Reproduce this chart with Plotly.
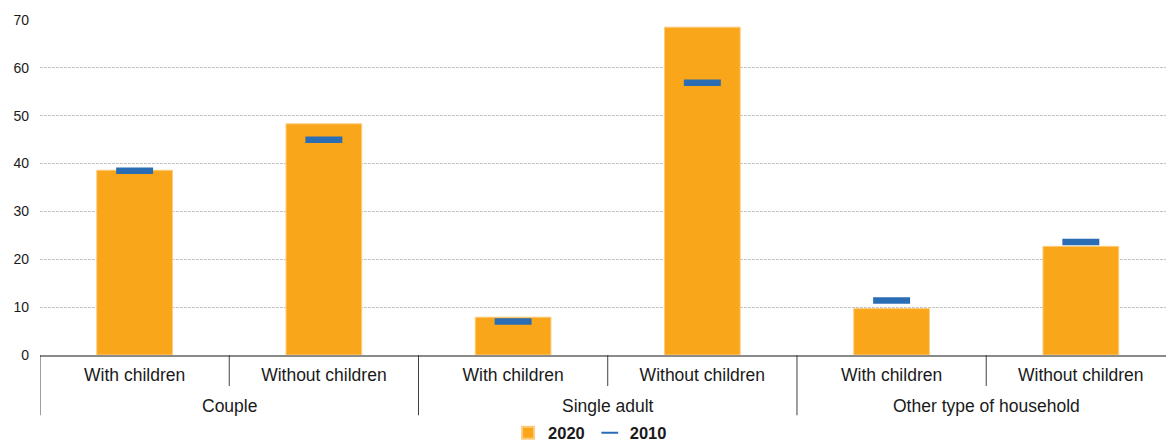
import plotly.graph_objects as go

# Household types (outer level) and sub-types (inner level)
groups = ["Couple", "Single adult", "Other type of household"]
household_groups = ["Couple", "Couple", "Single adult", "Single adult",
                    "Other type of household", "Other type of household"]
child_status = ["With children", "Without children"] * 3

# Shares (%) by household type
values_2020 = [38.6, 48.3, 7.9, 68.5, 9.7, 22.7]
values_2010 = [38.5, 45.0, 7.0, 56.9, 11.4, 23.6]

y_ticks = [0, 10, 20, 30, 40, 50, 60, 70]

# Unique category keys; the axis shows only the sub-type text
x_keys = [f"{g} | {c}" for g, c in zip(household_groups, child_status)]

fig = go.Figure()

fig.add_trace(go.Bar(
    x=x_keys,
    y=values_2020,
    name="2020",
    marker=dict(color="#FAA61A", line=dict(color="#FCCB7E", width=1)),
))

fig.add_trace(go.Scatter(
    x=x_keys,
    y=values_2010,
    name="2010",
    mode="markers",
    marker=dict(symbol="line-ew", size=26.4,
                line=dict(color="#2A6DB5", width=6.5)),
))

n_sub = 2
divider_color = "#404040"
for gi, gname in enumerate(groups):
    start = gi * n_sub - 0.5
    # long separator at the start of each household group
    fig.add_shape(type="line", xref="x", yref="paper",
                  x0=start, x1=start, y0=0, y1=-0.18,
                  line=dict(color=divider_color, width=1))
    # short separators between sub-types inside the group
    for k in range(1, n_sub):
        pos = start + k
        fig.add_shape(type="line", xref="x", yref="paper",
                      x0=pos, x1=pos, y0=0, y1=-0.0925,
                      line=dict(color=divider_color, width=1))
    # group label centred under its sub-types
    fig.add_annotation(text=gname, xref="x", yref="paper",
                       x=start + n_sub / 2, y=-0.152,
                       xanchor="center", yanchor="middle", showarrow=False,
                       font=dict(size=17.5, color="#1a1a1a"))

fig.update_layout(
    width=1166,
    height=444,
    margin=dict(l=40, r=0, t=20, b=89, autoexpand=False),
    paper_bgcolor="white",
    plot_bgcolor="white",
    font=dict(family="Liberation Sans, Arial, sans-serif", color="#1a1a1a"),
    bargap=0.6,
    showlegend=True,
    legend=dict(orientation="h", x=0.4885, xanchor="center",
                y=-0.233, yanchor="middle",
                font=dict(size=16.5, color="#1a1a1a", weight="bold",
                          family="Liberation Sans, Arial, sans-serif"),
                itemsizing="constant", itemwidth=30,
                bgcolor="rgba(0,0,0,0)"),
    xaxis=dict(
        type="category",
        tickvals=x_keys,
        ticktext=child_status,
        range=[-0.5, 5.45],
        automargin=False,
        showline=True, linecolor="#8a8a8a", linewidth=2,
        showgrid=False, zeroline=False,
        ticks="",
        ticklabelstandoff=3,
        tickfont=dict(size=17.5, color="#1a1a1a"),
    ),
    yaxis=dict(
        range=[0, 70],
        automargin=False,
        tickvals=y_ticks,
        showgrid=True, gridcolor="#c4c4c4", gridwidth=1, griddash="3px,1px",
        zeroline=False, showline=False,
        ticks="",
        ticklabelstandoff=10,
        tickfont=dict(size=14, color="#1a1a1a"),
    ),
)

fig.write_html("out.html")
